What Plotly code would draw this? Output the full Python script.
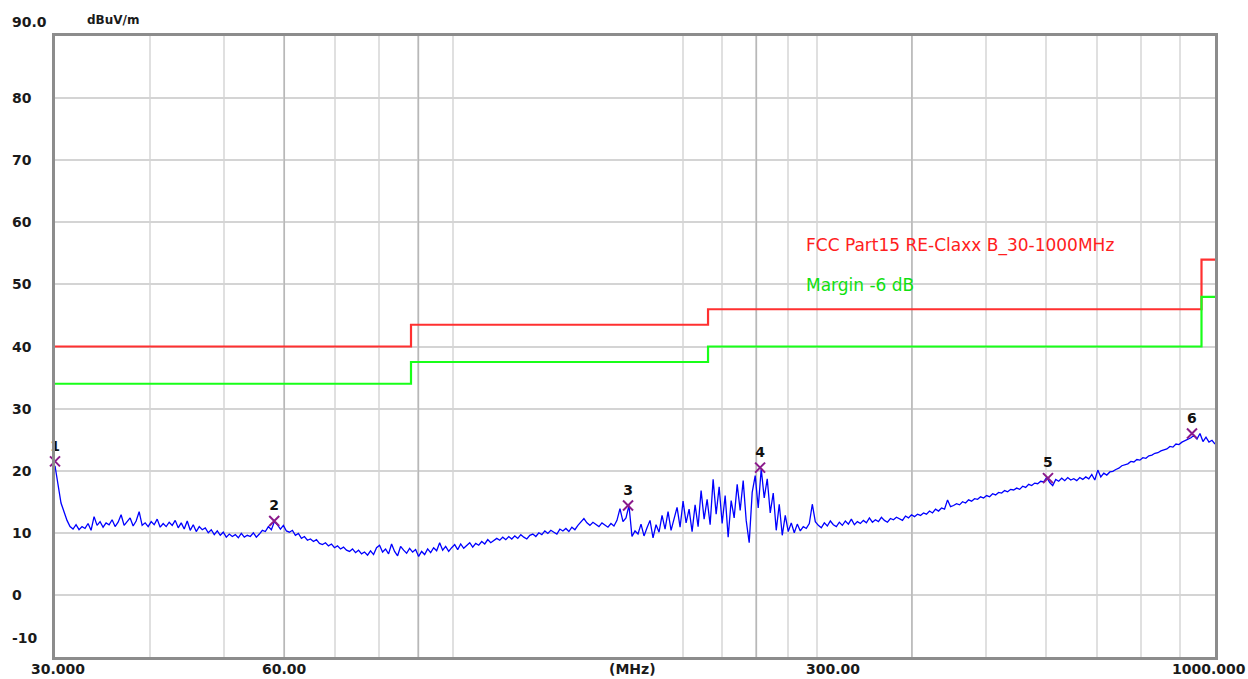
import numpy as np
import plotly.graph_objects as go

# ---------------- data ----------------
# measured trace levels (dBuV/m), sweep 30 -> 1000 MHz (log-spaced sweep points)
trace_levels = [
    20.8, 17.5, 14.8, 13.4, 12.0, 11.0, 10.6, 11.3, 10.5, 11.0,
    10.7, 11.5, 10.4, 12.6, 11.2, 11.8, 10.9, 11.6, 11.3, 12.1,
    11.0, 11.7, 12.9, 11.2, 11.8, 12.4, 11.1, 11.9, 13.4, 11.2,
    11.6, 11.0, 11.8, 11.3, 12.2, 10.9, 11.5, 11.0, 11.7, 11.2,
    12.0, 10.8, 11.6, 10.6, 11.9, 10.4, 11.3, 10.2, 11.0, 10.5,
    10.8, 10.0, 10.5, 9.7, 10.3, 9.6, 10.1, 9.3, 9.8, 9.4,
    9.7, 9.2, 9.9, 9.3, 9.6, 9.4, 10.0, 9.3, 9.8, 10.4,
    10.2, 11.0, 10.5, 11.8, 11.3, 10.6, 11.2, 10.3, 10.1, 10.4,
    9.6, 9.9, 9.1, 9.4, 8.8, 9.0, 8.6, 8.9, 8.3, 8.1,
    8.4, 7.9, 8.2, 7.6, 7.9, 7.4, 7.7, 7.2, 7.0, 7.4,
    6.8, 7.2, 6.6, 6.9, 6.4, 7.1, 6.5, 7.6, 8.0, 6.9,
    7.4, 6.6, 8.2, 7.0, 6.3, 7.8, 7.2, 6.7, 7.5, 6.9,
    7.3, 6.2, 7.0, 6.5, 7.4, 6.8, 7.6, 7.1, 8.4, 7.2,
    7.8, 7.0, 7.6, 8.1, 7.3, 8.2, 7.5, 7.9, 8.4, 7.7,
    8.3, 8.0, 8.6, 8.2, 8.9, 8.4, 8.7, 9.1, 8.8, 9.3,
    8.9, 9.4, 9.0, 9.5, 9.1, 9.7, 9.3, 9.0, 9.6, 9.8,
    9.4, 10.0, 9.7, 10.3, 9.9, 10.4, 10.1, 9.8, 10.6, 10.3,
    10.7, 10.2, 10.9, 10.5, 11.2, 11.8, 12.3, 11.6, 11.2, 11.7,
    11.3, 11.0, 11.6, 11.2, 10.9, 11.5, 11.1, 12.0, 13.9, 11.8,
    12.4, 14.4, 9.4, 10.3, 9.8, 11.4, 9.5, 10.8, 12.0, 9.2,
    11.3, 10.1, 12.8, 10.6, 13.4, 10.4, 12.2, 14.1, 10.9, 15.1,
    11.6, 13.8, 10.2, 14.5, 11.0, 16.8, 12.2, 15.4, 11.3, 18.6,
    13.0, 17.4, 11.5, 16.0, 9.3, 15.2, 12.4, 17.8, 13.6, 18.4,
    12.0, 8.4, 16.5, 19.2, 14.0, 20.3, 15.6, 18.7, 13.2, 16.4,
    10.4, 14.6, 9.6, 12.8, 10.2, 11.6, 10.0, 11.4, 10.3, 11.0,
    10.7, 11.5, 14.6, 11.8, 11.2, 10.8, 11.6, 11.1, 11.9, 11.3,
    11.0, 11.7, 11.2, 11.9, 11.4, 12.2, 11.3, 11.8, 11.5, 12.0,
    11.6, 12.4, 11.7, 12.1, 11.8, 12.5, 12.0, 11.7, 12.3, 12.1,
    12.5, 12.2, 12.0, 12.7, 12.4, 12.9, 12.6, 13.0, 12.8, 13.2,
    13.0, 13.5, 13.2, 13.8, 13.5, 14.0, 13.8, 15.3, 14.2, 14.4,
    14.7, 14.5, 15.0, 14.8, 15.3, 15.1, 15.5, 15.4, 15.8, 15.6,
    16.0, 15.8, 16.3, 16.1, 16.5, 16.4, 16.8, 16.6, 17.0, 16.9,
    17.2, 17.0, 17.5, 17.3, 17.8, 17.6, 18.0, 17.9, 18.3, 18.2,
    18.9, 18.1, 17.6, 18.6, 18.3, 18.8, 18.4, 18.9, 18.5, 18.7,
    18.4, 18.9, 18.6, 19.0, 18.7, 19.4, 18.5, 20.1, 19.0, 19.6,
    19.3, 19.8, 19.9, 20.2, 20.4, 20.8, 21.0, 21.1, 21.5, 21.4,
    21.8, 21.7, 22.1, 22.0, 22.4, 22.5, 22.8, 22.9, 23.2, 23.4,
    23.5, 23.9, 23.8, 24.3, 24.2, 24.6, 24.8, 25.0, 25.3, 25.7,
    25.1, 26.0, 24.7, 25.4, 24.6, 24.9, 24.3,
]
sweep_start_mhz = 30.0
sweep_stop_mhz = 1000.0

# FCC Part 15 Class B limit and -6 dB margin (step lines)
limit_freqs = [30, 88, 216, 960, 1000]
limit_levels = [40.0, 43.5, 46.0, 54.0, 54.0]
margin_levels = [34.0, 37.5, 40.0, 48.0, 48.0]

# marked peaks
peak_labels = ["1", "2", "3", "4", "5", "6"]
peak_freqs = [30.0, 58.2, 169.6, 252.8, 603.6, 932.8]
peak_levels = [21.5, 11.9, 14.4, 20.5, 18.8, 26.0]

# grid / tick labels
grid_light = [40, 50, 70, 80, 100, 200, 225, 275, 300, 500, 600, 700, 800, 900]
grid_dark = [60, 90, 250, 400]
y_tick_vals = [80, 70, 60, 50, 40, 30, 20, 10, 0, -10]
x_label_texts = ["30.000", "60.00", "(MHz)", "300.00", "1000.000"]
x_label_px = [58, 284, 632, 833, 1209]

# ---------------- figure ----------------
W, H = 1248, 679
L, R, T, B = 55, 33, 36, 22
pw, ph = W - L - R, H - T - B

sweep_freqs = np.geomspace(sweep_start_mhz, sweep_stop_mhz, len(trace_levels))

fig = go.Figure()

# darker vertical grid lines
gx, gy = [], []
for f in grid_dark:
    gx += [f, f, None]
    gy += [-10, 90, None]
fig.add_trace(go.Scatter(x=gx, y=gy, mode="lines", line=dict(color="#b8b8b8", width=1.5),
                         hoverinfo="skip", showlegend=False))

fig.add_trace(go.Scatter(x=limit_freqs, y=limit_levels, mode="lines", line_shape="hv",
                         line=dict(color="#ff3030", width=2.2), showlegend=False))
fig.add_trace(go.Scatter(x=limit_freqs, y=margin_levels, mode="lines", line_shape="hv",
                         line=dict(color="#19ff19", width=2.2), showlegend=False))
fig.add_trace(go.Scatter(x=sweep_freqs, y=trace_levels, mode="lines",
                         line=dict(color="#0000ff", width=1.3), showlegend=False))
fig.add_trace(go.Scatter(x=peak_freqs, y=peak_levels, mode="markers+text",
                         text=[f"<b>{t}</b>" for t in peak_labels], textposition="top center",
                         textfont=dict(family="DejaVu Sans", size=14, color="#111111"),
                         marker=dict(symbol="x-thin", size=10, color="#8b1a8b",
                                     line=dict(color="#8b1a8b", width=2)),
                         cliponaxis=False, showlegend=False))

fig.update_xaxes(type="log", range=[np.log10(sweep_start_mhz), np.log10(sweep_stop_mhz)],
                 tickvals=grid_light + grid_dark, showticklabels=False,
                 showgrid=True, gridcolor="#e0e0e0", gridwidth=1.5,
                 showline=True, linecolor="#8c8c8c", linewidth=3, mirror=True,
                 zeroline=False, ticks="")
fig.update_yaxes(range=[-10, 90], dtick=10, tick0=0, showticklabels=False,
                 showgrid=True, gridcolor="#d4d4d4", gridwidth=1.5,
                 showline=True, linecolor="#8c8c8c", linewidth=3, mirror=True,
                 zeroline=False, ticks="")

lab_font = dict(family="DejaVu Sans", size=14, color="#1a1a1a")
ann = []


def px_x(px):
    return (px - L) / pw


def px_y(py):
    return (H - B - py) / ph


# y tick labels
for v in y_tick_vals:
    shift = 19 if v == -10 else 0
    ann.append(dict(text=f"<b>{v}</b>", xref="paper", yref="y", x=px_x(10), y=v,
                    xanchor="left", yanchor="middle", yshift=shift, showarrow=False, font=lab_font))
ann.append(dict(text="<b>90.0</b>", xref="paper", yref="paper", x=px_x(10), y=px_y(22),
                xanchor="left", yanchor="middle", showarrow=False, font=lab_font))
ann.append(dict(text="<b>dBuV/m</b>", xref="paper", yref="paper", x=px_x(85), y=px_y(20),
                xanchor="left", yanchor="middle", showarrow=False,
                font=dict(family="DejaVu Sans", size=12, color="#1a1a1a")))
# x labels
for t, p in zip(x_label_texts, x_label_px):
    ann.append(dict(text=f"<b>{t}</b>", xref="paper", yref="paper", x=px_x(p), y=px_y(669),
                    xanchor="center", yanchor="middle", showarrow=False, font=lab_font))
# legend texts
ann.append(dict(text="FCC Part15 RE-Claxx B_30-1000MHz", xref="paper", yref="paper",
                x=px_x(804), y=px_y(246), xanchor="left", yanchor="middle", showarrow=False,
                font=dict(family="DejaVu Sans", size=17, color="#ff2020")))
ann.append(dict(text="Margin -6 dB", xref="paper", yref="paper",
                x=px_x(804), y=px_y(285), xanchor="left", yanchor="middle", showarrow=False,
                font=dict(family="DejaVu Sans", size=17, color="#10e010")))

fig.update_layout(width=W, height=H, margin=dict(l=L, r=R, t=T, b=B),
                  paper_bgcolor="white", plot_bgcolor="white", annotations=ann,
                  showlegend=False)

fig.write_html("out.html", config={"displayModeBar": False},
               post_script="document.body.style.margin='0px';")
